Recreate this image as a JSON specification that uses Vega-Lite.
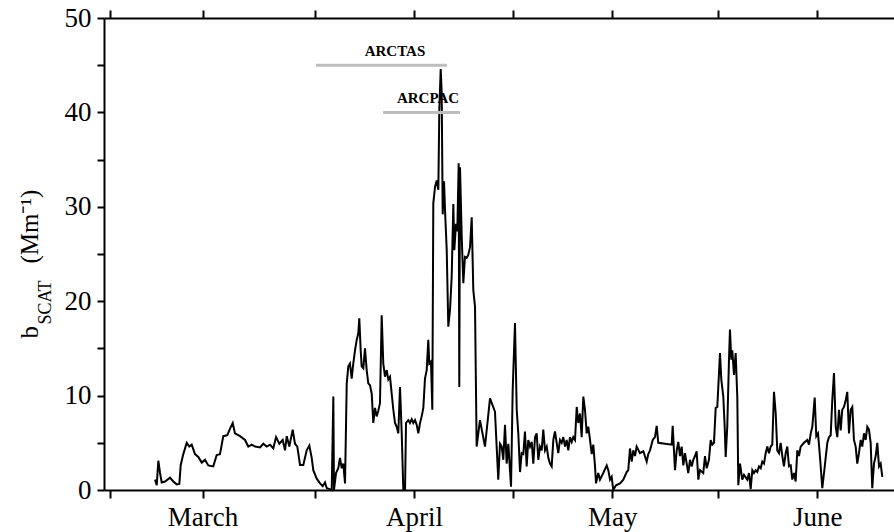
{
  "$schema": "https://vega.github.io/schema/vega-lite/v6.json",
  "width": 790,
  "height": 472,
  "autosize": {"type": "none"},
  "padding": {"left": 104, "top": 18, "right": 0, "bottom": 42},
  "background": "white",
  "config": {
    "view": {"stroke": null},
    "font": "Liberation Serif",
    "axis": {
      "domainColor": "black", "domainWidth": 2, "tickColor": "black", "tickWidth": 2,
      "labelColor": "black", "titleColor": "black", "grid": false,
      "labelFont": "Liberation Serif", "titleFont": "Liberation Serif", "labelFontSize": 27
    }
  },
  "datasets": {
    "series": [
      {"doy":67.81,"b":1.1},{"doy":68.07,"b":0.5},{"doy":68.31,"b":3.1},{"doy":68.57,"b":1.8},{"doy":68.82,"b":0.8},
      {"doy":69.32,"b":0.9},{"doy":70.08,"b":1.3},{"doy":70.58,"b":0.9},{"doy":71.09,"b":0.6},{"doy":71.49,"b":0.65},
      {"doy":71.70,"b":2.65},{"doy":72.09,"b":3.8},{"doy":72.61,"b":5.0},{"doy":73.0,"b":4.6},{"doy":73.36,"b":4.8},
      {"doy":73.86,"b":3.8},{"doy":74.36,"b":3.5},{"doy":74.88,"b":2.9},{"doy":75.37,"b":3.2},{"doy":75.87,"b":2.6},
      {"doy":76.63,"b":2.5},{"doy":77.14,"b":3.7},{"doy":77.64,"b":3.8},{"doy":78.14,"b":5.7},{"doy":78.75,"b":5.8},
      {"doy":79.16,"b":6.5},{"doy":79.57,"b":7.1},{"doy":79.91,"b":6.0},{"doy":80.67,"b":5.7},{"doy":81.43,"b":5.3},
      {"doy":81.93,"b":4.6},{"doy":82.44,"b":4.8},{"doy":82.94,"b":4.6},{"doy":83.70,"b":4.5},{"doy":84.20,"b":4.9},
      {"doy":84.71,"b":4.6},{"doy":85.21,"b":4.8},{"doy":85.71,"b":4.4},{"doy":86.12,"b":5.6},{"doy":86.62,"b":4.9},
      {"doy":87.13,"b":5.3},{"doy":87.48,"b":4.2},{"doy":87.74,"b":5.7},{"doy":88.13,"b":4.6},{"doy":88.64,"b":6.4},
      {"doy":88.99,"b":4.9},{"doy":89.34,"b":4.6},{"doy":89.75,"b":2.65},{"doy":90.25,"b":2.65},{"doy":90.76,"b":4.2},
      {"doy":91.16,"b":4.7},{"doy":91.52,"b":3.4},{"doy":91.76,"b":2.1},{"doy":92.28,"b":1.2},{"doy":92.78,"b":0.7},
      {"doy":93.18,"b":0.4},{"doy":93.53,"b":0.8},{"doy":93.79,"b":0.2},{"doy":94.55,"b":0},{"doy":94.79,"b":9.9},
      {"doy":94.89,"b":0},{"doy":95.20,"b":1.8},{"doy":95.54,"b":2.3},{"doy":95.80,"b":3.4},{"doy":96.06,"b":2.3},
      {"doy":96.30,"b":2.8},{"doy":96.56,"b":0.7},{"doy":96.82,"b":11.3},{"doy":97.06,"b":13.1},{"doy":97.31,"b":13.4},
      {"doy":97.57,"b":11.8},{"doy":97.81,"b":13.4},{"doy":98.07,"b":14.8},{"doy":98.33,"b":15.9},{"doy":98.57,"b":16.6},
      {"doy":98.72,"b":18.2},{"doy":98.93,"b":14.8},{"doy":99.08,"b":13.1},{"doy":99.33,"b":12.9},{"doy":99.58,"b":15.0},
      {"doy":99.84,"b":12.7},{"doy":100.08,"b":11.3},{"doy":100.34,"b":11.1},{"doy":100.60,"b":10.2},{"doy":100.84,"b":7.1},
      {"doy":101.10,"b":8.7},{"doy":101.35,"b":7.8},{"doy":101.60,"b":8.4},{"doy":101.85,"b":9.2},{"doy":102.11,"b":18.5},
      {"doy":102.35,"b":13.4},{"doy":102.61,"b":12.0},{"doy":102.87,"b":12.7},{"doy":103.11,"b":11.7},{"doy":103.37,"b":12.0},
      {"doy":103.62,"b":10.2},{"doy":103.87,"b":8.5},{"doy":104.12,"b":7.1},{"doy":104.38,"b":6.7},{"doy":104.62,"b":6.0},
      {"doy":104.88,"b":10.9},{"doy":105.14,"b":6.0},{"doy":105.38,"b":0},{"doy":105.64,"b":0},{"doy":105.79,"b":7.1},
      {"doy":106.14,"b":7.4},{"doy":106.39,"b":7.1},{"doy":106.65,"b":7.5},{"doy":106.89,"b":7.1},{"doy":107.15,"b":7.4},
      {"doy":107.41,"b":6.9},{"doy":107.65,"b":6.0},{"doy":107.91,"b":7.1},{"doy":108.16,"b":7.8},{"doy":108.41,"b":8.7},
      {"doy":108.66,"b":11.8},{"doy":108.92,"b":12.7},{"doy":109.16,"b":15.9},{"doy":109.31,"b":13.4},{"doy":109.57,"b":13.6},
      {"doy":109.77,"b":8.5},{"doy":109.92,"b":30.4},{"doy":110.18,"b":32.1},{"doy":110.43,"b":32.8},{"doy":110.68,"b":31.8},
      {"doy":110.83,"b":40.3},{"doy":111.04,"b":44.6},{"doy":111.19,"b":42.0},{"doy":111.34,"b":29.2},{"doy":111.54,"b":32.7},
      {"doy":111.69,"b":29.7},{"doy":111.95,"b":25.4},{"doy":112.19,"b":17.3},{"doy":112.45,"b":19.1},{"doy":112.70,"b":22.6},
      {"doy":112.95,"b":30.3},{"doy":113.10,"b":25.4},{"doy":113.35,"b":28.2},{"doy":113.55,"b":27.4},{"doy":113.76,"b":34.6},
      {"doy":113.85,"b":10.9},{"doy":113.96,"b":34.2},{"doy":114.22,"b":26.8},{"doy":114.46,"b":21.9},{"doy":114.71,"b":24.7},
      {"doy":114.97,"b":24.6},{"doy":115.21,"b":24.9},{"doy":115.47,"b":25.7},{"doy":115.73,"b":28.9},{"doy":115.97,"b":21.2},
      {"doy":116.23,"b":19.4},{"doy":116.48,"b":4.6},{"doy":116.98,"b":7.4},{"doy":117.74,"b":4.6},{"doy":118.50,"b":9.7},
      {"doy":119.25,"b":8.3},{"doy":119.75,"b":1.1},{"doy":120.01,"b":4.9},{"doy":120.27,"b":4.6},{"doy":120.51,"b":3.2},
      {"doy":120.77,"b":6.9},{"doy":121.02,"b":2.8},{"doy":121.27,"b":4.9},{"doy":121.68,"b":0.35},{"doy":121.93,"b":10.6},
      {"doy":122.28,"b":17.7},{"doy":122.54,"b":8.5},{"doy":122.78,"b":6.0},{"doy":123.04,"b":1.9},{"doy":123.29,"b":3.9},
      {"doy":123.54,"b":3.8},{"doy":123.79,"b":6.2},{"doy":124.05,"b":2.5},{"doy":124.29,"b":5.3},{"doy":124.55,"b":4.6},
      {"doy":124.81,"b":5.1},{"doy":125.05,"b":2.8},{"doy":125.31,"b":5.6},{"doy":125.56,"b":6.0},{"doy":125.81,"b":3.2},
      {"doy":126.06,"b":4.6},{"doy":126.32,"b":4.2},{"doy":126.56,"b":6.4},{"doy":126.82,"b":4.2},{"doy":127.08,"b":4.6},
      {"doy":127.32,"b":3.4},{"doy":127.58,"b":2.8},{"doy":127.83,"b":2.5},{"doy":128.08,"b":5.3},{"doy":128.33,"b":6.2},
      {"doy":128.59,"b":5.0},{"doy":128.83,"b":3.9},{"doy":129.09,"b":5.3},{"doy":129.35,"b":5.0},{"doy":129.59,"b":5.6},
      {"doy":129.85,"b":4.6},{"doy":130.10,"b":5.3},{"doy":130.35,"b":4.2},{"doy":130.60,"b":5.6},{"doy":130.86,"b":5.1},
      {"doy":131.10,"b":5.6},{"doy":131.36,"b":5.3},{"doy":131.62,"b":8.8},{"doy":131.86,"b":7.1},{"doy":132.12,"b":8.1},
      {"doy":132.37,"b":5.6},{"doy":132.62,"b":9.9},{"doy":132.87,"b":8.5},{"doy":133.13,"b":6.0},{"doy":133.37,"b":6.7},
      {"doy":133.63,"b":5.3},{"doy":133.89,"b":3.8},{"doy":134.13,"b":4.8},{"doy":134.39,"b":2.5},{"doy":134.54,"b":0.7},
      {"doy":134.88,"b":1.8},{"doy":135.14,"b":1.1},{"doy":135.64,"b":1.8},{"doy":136.16,"b":2.6},{"doy":136.40,"b":2.1},
      {"doy":136.66,"b":1.1},{"doy":136.91,"b":1.4},{"doy":137.15,"b":0},{"doy":137.56,"b":0.5},{"doy":138.17,"b":0.7},
      {"doy":138.67,"b":1.1},{"doy":139.18,"b":1.9},{"doy":139.42,"b":2.1},{"doy":139.68,"b":4.4},{"doy":139.94,"b":3.0},
      {"doy":140.18,"b":4.2},{"doy":140.44,"b":3.6},{"doy":140.69,"b":4.6},{"doy":141.19,"b":3.9},{"doy":141.70,"b":4.1},
      {"doy":142.21,"b":3.0},{"doy":142.45,"b":3.8},{"doy":142.71,"b":4.2},{"doy":143.12,"b":5.3},{"doy":143.46,"b":5.6},
      {"doy":143.72,"b":6.8},{"doy":143.96,"b":5.0},{"doy":145.99,"b":4.8},{"doy":146.14,"b":6.8},{"doy":146.49,"b":2.1},
      {"doy":146.75,"b":4.2},{"doy":146.99,"b":5.1},{"doy":147.25,"b":3.6},{"doy":147.50,"b":4.6},{"doy":147.75,"b":2.6},
      {"doy":148.00,"b":3.9},{"doy":148.26,"b":2.8},{"doy":148.50,"b":1.8},{"doy":148.76,"b":3.2},{"doy":149.02,"b":2.5},
      {"doy":149.26,"b":3.2},{"doy":149.52,"b":3.6},{"doy":149.77,"b":4.1},{"doy":150.02,"b":1.1},{"doy":150.27,"b":2.1},
      {"doy":150.77,"b":1.8},{"doy":151.03,"b":3.6},{"doy":151.29,"b":2.3},{"doy":151.63,"b":3.2},{"doy":151.89,"b":5.3},
      {"doy":152.13,"b":4.8},{"doy":152.39,"b":5.0},{"doy":152.65,"b":8.7},{"doy":152.89,"b":8.8},{"doy":153.15,"b":12.4},
      {"doy":153.30,"b":14.5},{"doy":153.50,"b":11.7},{"doy":153.80,"b":9.9},{"doy":154.01,"b":6.7},{"doy":154.16,"b":3.5},
      {"doy":154.40,"b":6.7},{"doy":154.66,"b":13.8},{"doy":154.81,"b":17.0},{"doy":155.01,"b":13.8},{"doy":155.16,"b":14.8},
      {"doy":155.42,"b":12.2},{"doy":155.67,"b":14.5},{"doy":155.92,"b":9.8},{"doy":156.07,"b":0.5},{"doy":156.33,"b":2.8},
      {"doy":156.67,"b":1.1},{"doy":156.93,"b":1.6},{"doy":157.43,"b":1.1},{"doy":157.69,"b":1.8},{"doy":157.94,"b":0.1},
      {"doy":158.19,"b":2.1},{"doy":158.44,"b":1.8},{"doy":158.70,"b":2.1},{"doy":158.94,"b":1.9},{"doy":159.20,"b":2.5},
      {"doy":159.46,"b":2.3},{"doy":159.70,"b":3.0},{"doy":159.96,"b":2.8},{"doy":160.21,"b":3.9},{"doy":160.46,"b":4.6},
      {"doy":160.71,"b":3.9},{"doy":160.97,"b":4.6},{"doy":161.21,"b":4.8},{"doy":161.47,"b":10.4},{"doy":161.73,"b":8.1},
      {"doy":161.97,"b":4.2},{"doy":162.23,"b":3.9},{"doy":162.48,"b":5.0},{"doy":162.73,"b":3.6},{"doy":162.98,"b":2.5},
      {"doy":163.24,"b":3.9},{"doy":163.48,"b":4.6},{"doy":163.74,"b":2.5},{"doy":164.00,"b":2.6},{"doy":164.24,"b":1.1},
      {"doy":164.50,"b":1.8},{"doy":164.75,"b":0.9},{"doy":165.00,"b":4.2},{"doy":165.25,"b":3.6},{"doy":165.51,"b":4.6},
      {"doy":166.01,"b":5.0},{"doy":166.51,"b":5.3},{"doy":166.77,"b":4.8},{"doy":167.03,"b":6.0},{"doy":167.27,"b":6.7},
      {"doy":167.63,"b":9.8},{"doy":167.87,"b":5.7},{"doy":168.13,"b":6.0},{"doy":168.43,"b":3.5},{"doy":168.78,"b":0.2},
      {"doy":169.04,"b":1.8},{"doy":169.54,"b":5.0},{"doy":169.79,"b":5.6},{"doy":170.05,"b":5.8},{"doy":170.29,"b":9.5},
      {"doy":170.55,"b":12.4},{"doy":170.81,"b":6.7},{"doy":171.05,"b":5.6},{"doy":171.31,"b":8.5},{"doy":171.56,"b":6.3},
      {"doy":171.80,"b":8.5},{"doy":172.06,"b":8.8},{"doy":172.32,"b":9.5},{"doy":172.56,"b":10.4},{"doy":172.82,"b":6.0},
      {"doy":173.07,"b":8.5},{"doy":173.32,"b":8.8},{"doy":173.57,"b":5.3},{"doy":173.83,"b":4.6},{"doy":174.07,"b":2.8},
      {"doy":174.33,"b":3.9},{"doy":174.59,"b":5.3},{"doy":174.83,"b":4.6},{"doy":175.09,"b":6.0},{"doy":175.34,"b":5.3},
      {"doy":175.59,"b":6.7},{"doy":175.84,"b":6.4},{"doy":176.10,"b":5.0},{"doy":176.34,"b":0.2},{"doy":176.60,"b":2.8},
      {"doy":176.86,"b":3.6},{"doy":177.10,"b":5.0},{"doy":177.36,"b":2.5},{"doy":177.61,"b":2.8},{"doy":177.86,"b":1.4}
    ],
    "campaigns": [
      {"name":"ARCTAS","start":92.17,"end":112.0,"level":45,"labelDoy":104.12},
      {"name":"ARCPAC","start":102.31,"end":113.96,"level":40,"labelDoy":109.12}
    ]
  },
  "resolve": {"axis": {"x": "independent", "y": "independent"}},
  "layer": [
    {
      "data": {"name": "series"},
      "mark": {"type": "line", "color": "black", "strokeWidth": 2},
      "encoding": {
        "x": {"field": "doy", "type": "quantitative",
          "scale": {"domain": [60.09, 179.63], "nice": false, "zero": false},
          "axis": {"orient": "bottom", "title": null, "values": [61,75,92,107,122,137,153,168],
            "labelExpr": "datum.value == 75 ? 'March' : datum.value == 107 ? 'April' : datum.value == 137 ? 'May' : datum.value == 168 ? 'June' : ''",
            "tickSize": 8, "labelPadding": 6, "labelFontSize": 27, "labelFlush": false, "labelOverlap": false}},
        "y": {"field": "b", "type": "quantitative",
          "scale": {"domain": [0, 50], "nice": false},
          "axis": {"orient": "left", "values": [0,5,10,15,20,25,30,35,40,45,50],
            "labelExpr": "datum.value % 10 == 0 ? datum.label : ''",
            "tickSize": 7,
            "labelPadding": 6, "labelFontSize": 27, "labelFlush": false, "labelOverlap": false,
            "title": "b\u2003\u2003\u2002(Mm⁻¹)", "titleFontSize": 25, "titleFontWeight": "normal",
            "titleAngle": 270, "titleAlign": "left", "titleBaseline": "alphabetic",
            "titleX": -67, "titleY": 320}}
      }
    },
    {
      "data": {"name": "campaigns"},
      "mark": {"type": "rule", "color": "#bdbdbd", "strokeWidth": 3},
      "encoding": {
        "x": {"field": "start", "type": "quantitative",
          "scale": {"domain": [60.09, 179.63], "nice": false, "zero": false},
          "axis": {"orient": "top", "title": null, "values": [61,75,92,107,122,137,153,168],
            "labels": false, "tickSize": 8}},
        "x2": {"field": "end"},
        "y": {"field": "level", "type": "quantitative", "scale": {"domain": [0, 50], "nice": false}, "axis": null}
      }
    },
    {
      "data": {"name": "campaigns"},
      "mark": {"type": "text", "font": "Liberation Serif", "fontWeight": "bold", "fontSize": 15, "color": "black", "baseline": "alphabetic", "dy": -9},
      "encoding": {
        "x": {"field": "labelDoy", "type": "quantitative",
          "scale": {"domain": [60.09, 179.63], "nice": false, "zero": false}, "axis": null},
        "y": {"field": "level", "type": "quantitative", "scale": {"domain": [0, 50], "nice": false},
          "axis": {"orient": "left", "domain": false, "ticks": false, "labels": false, "grid": false,
            "title": "SCAT", "titleFontSize": 18, "titleFontWeight": "normal",
            "titleAngle": 270, "titleAlign": "left", "titleBaseline": "alphabetic",
            "titleX": -54, "titleY": 306}},
        "text": {"field": "name"}
      }
    }
  ]
}
